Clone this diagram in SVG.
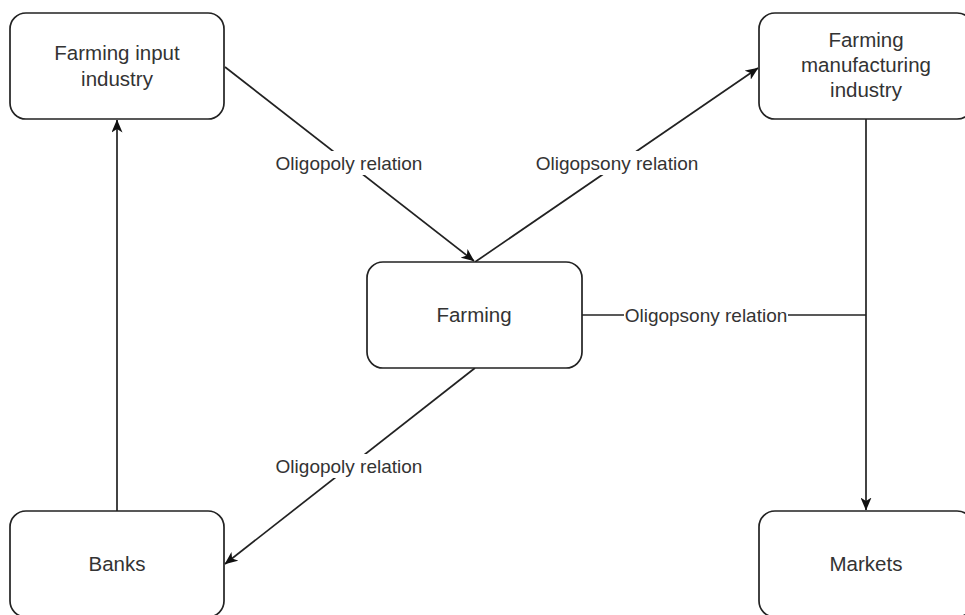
<svg xmlns="http://www.w3.org/2000/svg" width="965" height="615" viewBox="0 0 965 615">
<style>
.box{fill:#fff;stroke:#222;stroke-width:1.7}
.nt{font-family:"Liberation Sans",Arial,sans-serif;font-size:20.5px;fill:#333;text-anchor:middle}
.el{font-family:"Liberation Sans",Arial,sans-serif;font-size:19px;fill:#333;text-anchor:middle}
.ln{fill:none;stroke:#222;stroke-width:1.7}
.lbg{fill:#fff}
</style>
<defs>
<marker id="arr" viewBox="0 0 13 11" refX="12.5" refY="5.5" markerWidth="13" markerHeight="11" markerUnits="userSpaceOnUse" orient="auto">
<path d="M0,0 L13,5.5 L0,11 L3.5,5.5 Z" fill="#111"/>
</marker>
</defs>
<rect width="965" height="615" fill="#fff"/>
<g id="connectors">
<line class="ln" x1="225" y1="67" x2="474" y2="261" marker-end="url(#arr)"/>
<line class="ln" x1="475" y1="262" x2="758" y2="68" marker-end="url(#arr)"/>
<line class="ln" x1="475" y1="368" x2="225" y2="564" marker-end="url(#arr)"/>
<line class="ln" x1="117" y1="511" x2="117" y2="120" marker-end="url(#arr)"/>
<line class="ln" x1="866" y1="119" x2="866" y2="510" marker-end="url(#arr)"/>
<line class="ln" x1="582" y1="315" x2="866" y2="315"/>
<rect class="lbg" x="272" y="151" width="154" height="24"/>
<text class="el" x="349" y="170">Oligopoly relation</text>
<rect class="lbg" x="532" y="151" width="170" height="24"/>
<text class="el" x="617" y="170">Oligopsony relation</text>
<rect class="lbg" x="272" y="454" width="154" height="24"/>
<text class="el" x="349" y="473">Oligopoly relation</text>
<rect class="lbg" x="624" y="303" width="164" height="24"/>
<text class="el" x="706" y="322">Oligopsony relation</text>
</g>
<g id="input">
<rect class="box" x="10" y="13" width="214" height="106" rx="16"/>
<text class="nt" x="117" y="60">Farming input</text>
<text class="nt" x="117" y="86">industry</text>
</g>
<g id="manufacturing">
<rect class="box" x="759" y="13" width="214" height="106" rx="16"/>
<text class="nt" x="866" y="47">Farming</text>
<text class="nt" x="866" y="72">manufacturing</text>
<text class="nt" x="866" y="97">industry</text>
</g>
<g id="farming">
<rect class="box" x="367" y="262" width="215" height="106" rx="16"/>
<text class="nt" x="474" y="322">Farming</text>
</g>
<g id="banks">
<rect class="box" x="10" y="511" width="214" height="106" rx="16"/>
<text class="nt" x="117" y="571">Banks</text>
</g>
<g id="markets">
<rect class="box" x="759" y="511" width="214" height="106" rx="16"/>
<text class="nt" x="866" y="571">Markets</text>
</g>
</svg>
